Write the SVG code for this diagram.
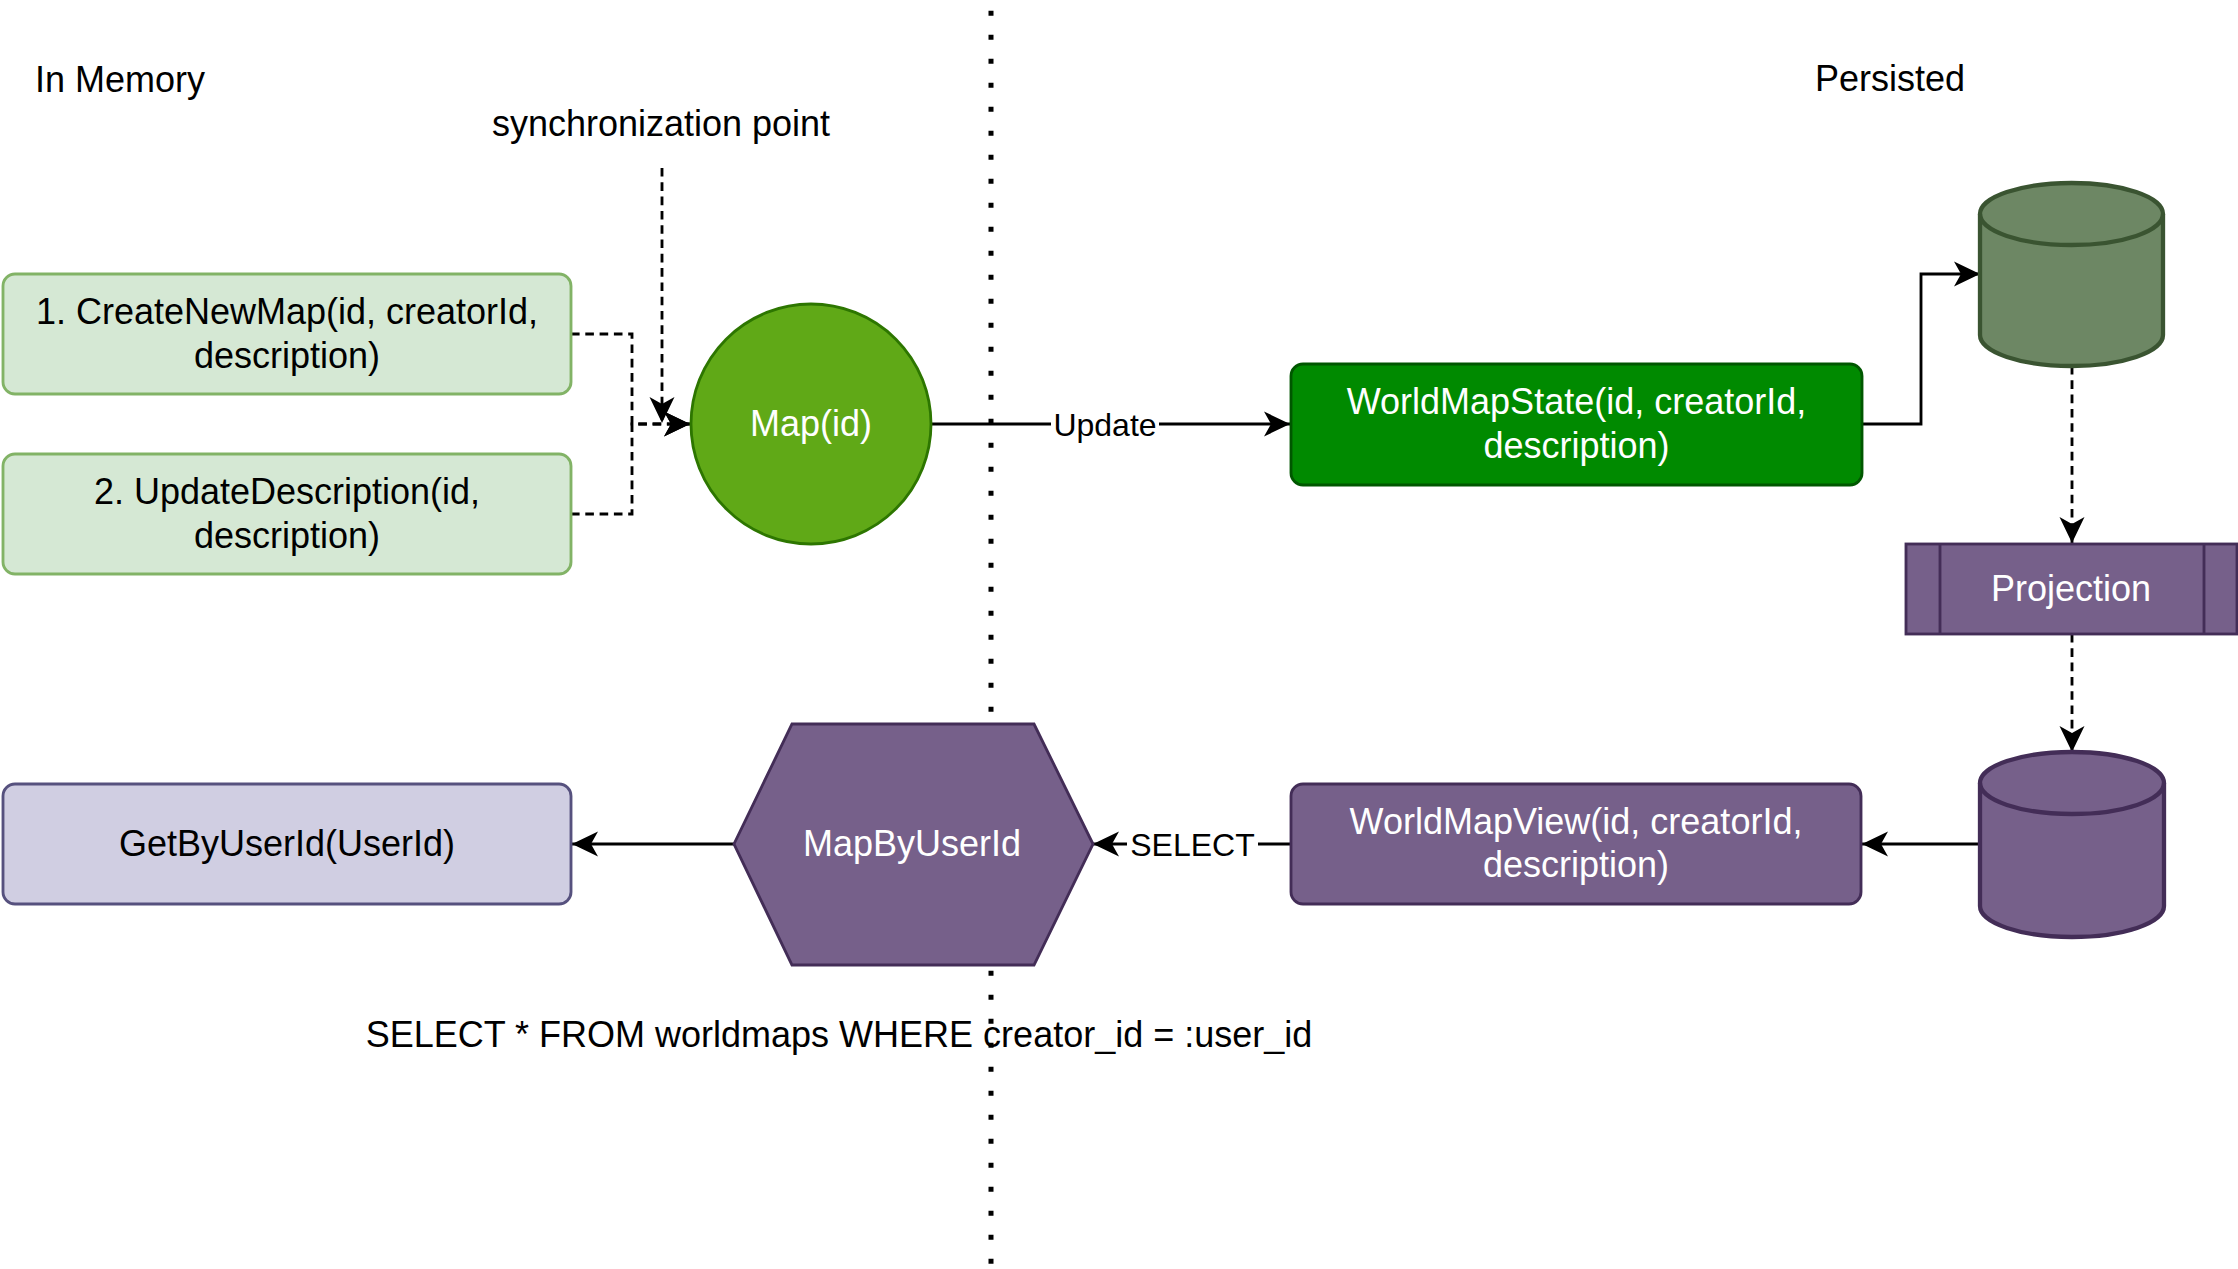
<svg xmlns="http://www.w3.org/2000/svg" width="2238" height="1269" viewBox="0 0 2238 1269">
  <style>
    text { font-family: "Liberation Sans", Arial, Helvetica, sans-serif; }
    .t { font-size: 36px; text-anchor: middle; }
    .w { fill: #ffffff; }
    .k { fill: #000000; }
    .lbl { font-size: 32px; text-anchor: middle; fill: #000000; }
    .edge { fill: none; stroke: #000000; stroke-width: 2.85; }
    .dash { stroke-dasharray: 8.6 5.7; }
    .lightgreen { fill: #d5e8d4; stroke: #82b366; stroke-width: 2.85; }
    .purple { fill: #76608a; stroke: #432d57; stroke-width: 2.85; }
    .lavender { fill: #d0cee2; stroke: #56517e; stroke-width: 2.85; }
  </style>
  <defs>
    <marker id="arrow" markerUnits="userSpaceOnUse" viewBox="0 0 26 26" refX="26" refY="13" markerWidth="26" markerHeight="26" orient="auto">
      <path d="M26,13 L0,0.5 L7,13 L0,25.5 Z" fill="#000000"/>
    </marker>
  </defs>
  <rect width="2238" height="1269" fill="#ffffff"/>

  <g id="divider">
    <line x1="991" y1="10.8" x2="991" y2="1269" stroke="#000000" stroke-width="5" stroke-dasharray="5 19"/>
  </g>

  <g id="labels">
    <text class="t k" x="120" y="91.5">In Memory</text>
    <text class="t k" x="1890" y="90.5">Persisted</text>
    <text class="t k" x="661" y="135.5">synchronization point</text>
    <text class="t k" x="839" y="1047">SELECT * FROM worldmaps WHERE creator_id = :user_id</text>
  </g>

  <g id="connectors">
    <path class="edge dash" d="M571,334 H632 V424 H690" marker-end="url(#arrow)"/>
    <path class="edge dash" d="M571,514 H632 V424 H690" marker-end="url(#arrow)"/>
    <path class="edge dash" d="M662,168 V423" marker-end="url(#arrow)"/>
    <path class="edge" d="M932,424 H1290" marker-end="url(#arrow)"/>
    <path class="edge" d="M1862,424 H1921 V274 H1980" marker-end="url(#arrow)"/>
    <path class="edge dash" d="M2072,366 V543" marker-end="url(#arrow)"/>
    <path class="edge dash" d="M2072,634 V752" marker-end="url(#arrow)"/>
    <path class="edge" d="M1980,844 H1862" marker-end="url(#arrow)"/>
    <path class="edge" d="M1291,844 H1093" marker-end="url(#arrow)"/>
    <path class="edge" d="M734,844 H572" marker-end="url(#arrow)"/>
    <rect x="1051" y="405" width="108" height="38" fill="#ffffff"/>
    <text class="lbl" x="1105" y="435.5">Update</text>
    <rect x="1127" y="825" width="131" height="38" fill="#ffffff"/>
    <text class="lbl" x="1192.5" y="855.5">SELECT</text>
  </g>

  <g id="createNewMap">
    <rect class="lightgreen" x="3" y="274" width="568" height="120" rx="12" ry="12"/>
    <text class="t k" x="287" y="324">1. CreateNewMap(id, creatorId,</text>
    <text class="t k" x="287" y="367.5">description)</text>
  </g>

  <g id="updateDescription">
    <rect class="lightgreen" x="3" y="454" width="568" height="120" rx="12" ry="12"/>
    <text class="t k" x="287" y="504">2. UpdateDescription(id,</text>
    <text class="t k" x="287" y="547.5">description)</text>
  </g>

  <g id="map">
    <circle cx="811" cy="424" r="120" fill="#60a917" stroke="#2d7600" stroke-width="2.85"/>
    <text class="t w" x="811" y="436">Map(id)</text>
  </g>

  <g id="worldMapState">
    <rect x="1291" y="364" width="571" height="121" rx="12" ry="12" fill="#008a00" stroke="#005700" stroke-width="2.85"/>
    <text class="t w" x="1576.5" y="414">WorldMapState(id, creatorId,</text>
    <text class="t w" x="1576.5" y="457.5">description)</text>
  </g>

  <g id="stateDb">
    <path d="M1980,214 A91.5,31 0 0 1 2163,214 V335 A91.5,31 0 0 1 1980,335 Z" fill="#6d8764" stroke="#3a5431" stroke-width="4.3"/>
    <path d="M1980,214 A91.5,31 0 0 0 2163,214" fill="none" stroke="#3a5431" stroke-width="4.3"/>
  </g>

  <g id="projection">
    <rect class="purple" x="1906" y="544" width="331" height="90"/>
    <line x1="1940" y1="544" x2="1940" y2="634" stroke="#432d57" stroke-width="2.85"/>
    <line x1="2204" y1="544" x2="2204" y2="634" stroke="#432d57" stroke-width="2.85"/>
    <text class="t w" x="2071" y="601">Projection</text>
  </g>

  <g id="viewDb">
    <path d="M1980,783 A92,31 0 0 1 2164,783 V906 A92,31 0 0 1 1980,906 Z" fill="#76608a" stroke="#432d57" stroke-width="4.3"/>
    <path d="M1980,783 A92,31 0 0 0 2164,783" fill="none" stroke="#432d57" stroke-width="4.3"/>
  </g>

  <g id="worldMapView">
    <rect class="purple" x="1291" y="784" width="570" height="120" rx="12" ry="12"/>
    <text class="t w" x="1576" y="833.5">WorldMapView(id, creatorId,</text>
    <text class="t w" x="1576" y="877">description)</text>
  </g>

  <g id="mapByUserId">
    <polygon class="purple" points="734,844 792,724 1034,724 1093,844 1034,965 792,965"/>
    <text class="t w" x="912" y="856">MapByUserId</text>
  </g>

  <g id="getByUserId">
    <rect class="lavender" x="3" y="784" width="568" height="120" rx="12" ry="12"/>
    <text class="t k" x="287" y="856">GetByUserId(UserId)</text>
  </g>
</svg>
